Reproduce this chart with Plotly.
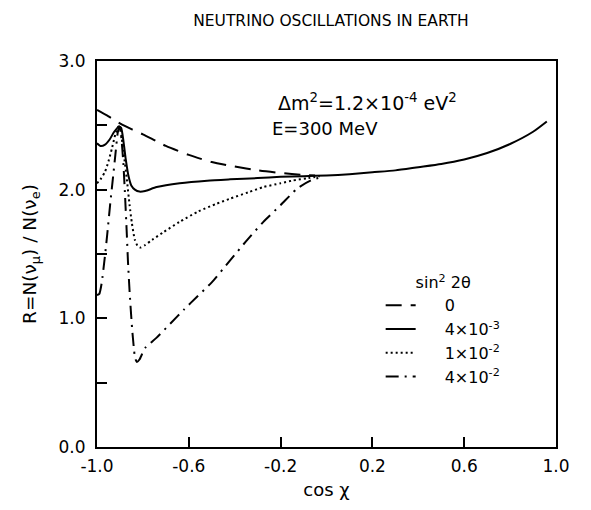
import plotly.graph_objects as go

# ---- data ----
x_zero = [-1.0, -0.95, -0.9, -0.85, -0.8, -0.7, -0.6, -0.5, -0.4, -0.3, -0.2, -0.1, -0.05]
r_zero = [2.62, 2.57, 2.515, 2.47, 2.43, 2.34, 2.27, 2.215, 2.18, 2.15, 2.13, 2.115, 2.11]

x_4e3 = [-1.0, -0.985, -0.965, -0.945, -0.925, -0.905, -0.895, -0.885, -0.875, -0.862,
         -0.85, -0.835, -0.815, -0.79, -0.74, -0.64, -0.52, -0.42, -0.3, -0.2, -0.1,
         0.0, 0.1, 0.2, 0.3, 0.4, 0.5, 0.6, 0.7, 0.8, 0.9, 0.96]
r_4e3 = [2.36, 2.34, 2.35, 2.39, 2.45, 2.49, 2.48, 2.38, 2.24, 2.10,
         2.03, 2.00, 1.985, 1.99, 2.02, 2.05, 2.07, 2.08, 2.09, 2.10, 2.105,
         2.11, 2.12, 2.135, 2.15, 2.175, 2.20, 2.235, 2.285, 2.355, 2.45, 2.53]

x_1e2 = [-1.0, -0.985, -0.965, -0.95, -0.935, -0.92, -0.907, -0.897, -0.885, -0.87,
         -0.858, -0.848, -0.835, -0.822, -0.81, -0.79, -0.76, -0.71, -0.64, -0.56,
         -0.48, -0.42, -0.34, -0.275, -0.2, -0.15, -0.08, -0.03]
r_1e2 = [2.05, 2.08, 2.14, 2.22, 2.32, 2.43, 2.49, 2.45, 2.30, 2.08,
         1.88, 1.74, 1.61, 1.56, 1.55, 1.57, 1.61, 1.67, 1.75, 1.83,
         1.89, 1.93, 1.98, 2.02, 2.05, 2.07, 2.09, 2.105]

x_4e2 = [-1.0, -0.99, -0.98, -0.965, -0.955, -0.943, -0.93, -0.92, -0.91, -0.903,
         -0.895, -0.885, -0.878, -0.87, -0.865, -0.857, -0.847, -0.84, -0.834, -0.826,
         -0.815, -0.79, -0.74, -0.68, -0.62, -0.563, -0.5, -0.42, -0.35, -0.275,
         -0.2, -0.127, -0.07, -0.02]
r_4e2 = [1.18, 1.19, 1.27, 1.49, 1.66, 1.88, 2.10, 2.27, 2.44, 2.49,
         2.42, 2.20, 1.96, 1.65, 1.44, 1.18, 0.92, 0.78, 0.69, 0.66,
         0.68, 0.77, 0.85, 0.96, 1.07, 1.17, 1.28, 1.45, 1.60, 1.75,
         1.88, 2.01, 2.07, 2.10]

legend_names = ["0", "4×10<sup>-3</sup>", "1×10<sup>-2</sup>", "4×10<sup>-2</sup>"]
x_ticks = [-1.0, -0.6, -0.2, 0.2, 0.6, 1.0]
x_tick_text = ["-1.0", "-0.6", "-0.2", "0.2", "0.6", "1.0"]
y_ticks = [0.0, 1.0, 2.0, 3.0]
y_tick_text = ["0.0", "1.0", "2.0", "3.0"]

FONT = "DejaVu Sans"
series = [
    (x_zero, r_zero, "16px,9px"),
    (x_4e3, r_4e3, "solid"),
    (x_1e2, r_1e2, "2px,3px"),
    (x_4e2, r_4e2, "13px,6px,2px,6px"),
]

fig = go.Figure()
for (xs, rs, dash), name in zip(series, legend_names):
    fig.add_trace(go.Scatter(
        x=xs, y=rs, mode="lines", name="\u2003\u2002" + name,
        line=dict(color="black", width=2, dash=dash, shape="spline", smoothing=0.6),
    ))

fig.update_layout(
    width=591, height=510,
    margin=dict(l=97, r=35, t=61, b=63),
    paper_bgcolor="white", plot_bgcolor="white",
    font=dict(family=FONT, color="black", size=16),
    title=dict(text="NEUTRINO OSCILLATIONS IN EARTH", x=0.56, xanchor="center",
               y=0.96, yanchor="middle", font=dict(size=15.5, family=FONT)),
    showlegend=True,
    legend=dict(
        x=0.618, y=0.465, xanchor="left", yanchor="top",
        bgcolor="rgba(0,0,0,0)", font=dict(size=16, family=FONT),
        title=dict(text="sin<sup>2</sup> 2θ", side="top center", font=dict(size=16, family=FONT)),
        itemwidth=30, tracegroupgap=0,
    ),
)

fig.update_xaxes(
    range=[-1.0, 1.0], tickvals=x_ticks, ticktext=x_tick_text,
    ticks="inside", ticklen=10, tickwidth=1.5, tickcolor="black",
    showline=True, linecolor="black", linewidth=2, mirror=True,
    showgrid=False, zeroline=False, ticklabelstandoff=3,
    tickfont=dict(size=17, family=FONT),
    title=dict(text="cos χ", font=dict(size=18, family=FONT), standoff=8),
)
fig.update_yaxes(
    range=[0.0, 3.0], tickvals=y_ticks, ticktext=y_tick_text,
    ticks="inside", ticklen=10, tickwidth=1.5, tickcolor="black",
    minor=dict(dtick=0.5, tick0=0, ticks="inside", ticklen=10, tickwidth=1.5,
               tickcolor="black", showgrid=False),
    showline=True, linecolor="black", linewidth=2, mirror=True,
    showgrid=False, zeroline=False, ticklabelstandoff=6,
    tickfont=dict(size=17, family=FONT),
    title=dict(text="R=N(ν<sub>μ</sub>) / N(ν<sub>e</sub>)", font=dict(size=18.5, family=FONT), standoff=17),
)

fig.add_annotation(
    text="Δm<sup>2</sup>=1.2×10<sup>-4</sup> eV<sup>2</sup>", xref="paper", yref="paper",
    x=0.59, y=0.93, showarrow=False, font=dict(size=19, family=FONT),
)
fig.add_annotation(
    text="E=300 MeV", xref="paper", yref="paper",
    x=0.497, y=0.857, showarrow=False, font=dict(size=18, family=FONT),
)

fig.write_html("out.html")
